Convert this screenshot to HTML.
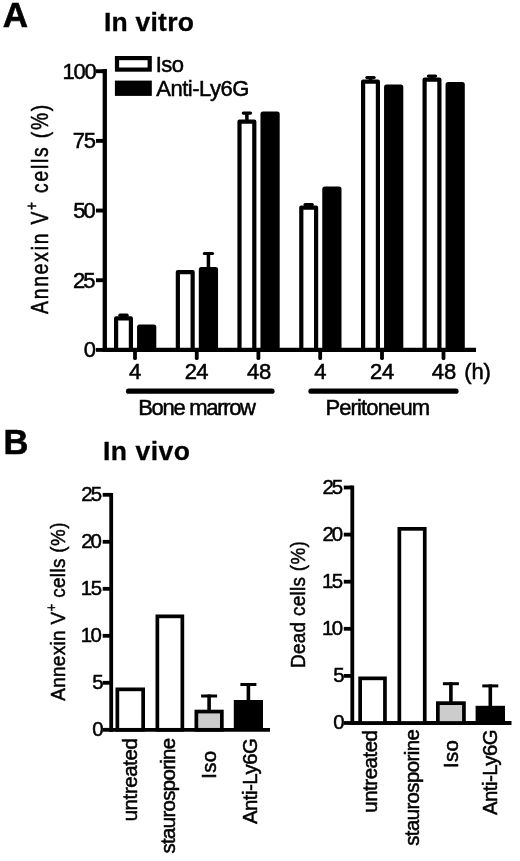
<!DOCTYPE html>
<html lang="en"><head><meta charset="utf-8"><title>Figure</title>
<style>html,body{margin:0;padding:0;background:#fff}body{width:520px;height:861px;overflow:hidden}svg{display:block}text{font-family:"Liberation Sans", Arial, sans-serif;fill:#000;stroke:#000}</style>
</head><body>
<svg width="520" height="861" viewBox="0 0 520 861">
<rect x="0" y="0" width="520" height="861" fill="#fff"/>
<text x="2.82" y="26.60" font-size="35" text-anchor="start" font-weight="bold" letter-spacing="0.000" stroke-width="0.6">A</text>
<text x="103.90" y="31.20" font-size="26.5" text-anchor="start" font-weight="bold" letter-spacing="0.243" stroke-width="0.3">In vitro</text>
<line x1="104.8" y1="69.05" x2="104.8" y2="352.05" stroke="#000" stroke-width="4.3" stroke-linecap="butt"/>
<line x1="102.65" y1="349.9" x2="476" y2="349.9" stroke="#000" stroke-width="4.3" stroke-linecap="butt"/>
<line x1="96" y1="71.2" x2="104.8" y2="71.2" stroke="#000" stroke-width="3.9" stroke-linecap="butt"/>
<text x="62.56" y="78.50" font-size="22" text-anchor="start" font-weight="normal" letter-spacing="-1.244" stroke-width="0.5">100</text>
<line x1="96" y1="140.875" x2="104.8" y2="140.875" stroke="#000" stroke-width="3.9" stroke-linecap="butt"/>
<text x="72.83" y="148.17" font-size="22" text-anchor="start" font-weight="normal" letter-spacing="-1.438" stroke-width="0.5">75</text>
<line x1="96" y1="210.55" x2="104.8" y2="210.55" stroke="#000" stroke-width="3.9" stroke-linecap="butt"/>
<text x="73.17" y="217.85" font-size="22" text-anchor="start" font-weight="normal" letter-spacing="-1.850" stroke-width="0.5">50</text>
<line x1="96" y1="280.225" x2="104.8" y2="280.225" stroke="#000" stroke-width="3.9" stroke-linecap="butt"/>
<text x="72.92" y="287.52" font-size="22" text-anchor="start" font-weight="normal" letter-spacing="-1.938" stroke-width="0.5">25</text>
<line x1="96" y1="349.9" x2="104.8" y2="349.9" stroke="#000" stroke-width="3.9" stroke-linecap="butt"/>
<text x="83.67" y="357.20" font-size="22" text-anchor="start" font-weight="normal" letter-spacing="0.000" stroke-width="0.5">0</text>
<text x="0.00" y="0.00" font-size="23" text-anchor="start" font-weight="normal" letter-spacing="2.133" stroke-width="0.5" transform="translate(47.60 314.00) rotate(-90) scale(0.8400 1)">Annexin V<tspan font-size="16.10" dy="-10.50">+</tspan><tspan font-size="23.00" dy="10.50"> cells (%)</tspan></text>
<rect x="117" y="58.1" width="32.7" height="11.5" fill="#fff" stroke="#000" stroke-width="4.2"/>
<rect x="114.9" y="80.6" width="36.9" height="15.3" fill="#000"/>
<text x="155.75" y="71.60" font-size="22" text-anchor="start" font-weight="normal" letter-spacing="-0.569" stroke-width="0.5">Iso</text>
<text x="156.29" y="95.60" font-size="22" text-anchor="start" font-weight="normal" letter-spacing="-0.489" stroke-width="0.5">Anti-Ly6G</text>
<line x1="123.5" y1="314.6" x2="123.5" y2="318.3" stroke="#000" stroke-width="3.5" stroke-linecap="butt"/>
<line x1="120" y1="315.2" x2="127" y2="315.2" stroke="#000" stroke-width="3.4" stroke-linecap="round"/>
<rect x="116.1" y="318.4" width="14.8" height="31.5" fill="#fff" stroke="#000" stroke-width="4.2" stroke-linejoin="round"/>
<rect x="137.05" y="324.5" width="19.25" height="25.4" rx="2.5" fill="#000"/>
<line x1="135" y1="349.9" x2="135" y2="358.2" stroke="#000" stroke-width="3.8" stroke-linecap="round"/>
<line x1="208.425" y1="253" x2="208.425" y2="269" stroke="#000" stroke-width="3.5" stroke-linecap="butt"/>
<line x1="204.3" y1="253.5" x2="212.55" y2="253.5" stroke="#000" stroke-width="3" stroke-linecap="round"/>
<rect x="177.85" y="272.1" width="14.8" height="77.8" fill="#fff" stroke="#000" stroke-width="4.2" stroke-linejoin="round"/>
<rect x="198.8" y="267" width="19.25" height="82.9" rx="2.5" fill="#000"/>
<line x1="196.75" y1="349.9" x2="196.75" y2="358.2" stroke="#000" stroke-width="3.8" stroke-linecap="round"/>
<line x1="246.9" y1="112.5" x2="246.9" y2="121.5" stroke="#000" stroke-width="3.5" stroke-linecap="butt"/>
<line x1="243.4" y1="113.1" x2="250.4" y2="113.1" stroke="#000" stroke-width="3.4" stroke-linecap="round"/>
<rect x="239.5" y="121.6" width="14.8" height="228.3" fill="#fff" stroke="#000" stroke-width="4.2" stroke-linejoin="round"/>
<rect x="260.45" y="111.5" width="19.25" height="238.4" rx="2.5" fill="#000"/>
<line x1="258.4" y1="349.9" x2="258.4" y2="358.2" stroke="#000" stroke-width="3.8" stroke-linecap="round"/>
<line x1="308.7" y1="204" x2="308.7" y2="207.5" stroke="#000" stroke-width="3.5" stroke-linecap="butt"/>
<line x1="305.2" y1="204.6" x2="312.2" y2="204.6" stroke="#000" stroke-width="3.4" stroke-linecap="round"/>
<rect x="301.3" y="207.6" width="14.8" height="142.3" fill="#fff" stroke="#000" stroke-width="4.2" stroke-linejoin="round"/>
<rect x="322.25" y="186.5" width="19.25" height="163.4" rx="2.5" fill="#000"/>
<line x1="320.2" y1="349.9" x2="320.2" y2="358.2" stroke="#000" stroke-width="3.8" stroke-linecap="round"/>
<line x1="370.5" y1="77" x2="370.5" y2="81.5" stroke="#000" stroke-width="3.5" stroke-linecap="butt"/>
<line x1="367" y1="77.6" x2="374" y2="77.6" stroke="#000" stroke-width="3.4" stroke-linecap="round"/>
<rect x="363.1" y="81.6" width="14.8" height="268.3" fill="#fff" stroke="#000" stroke-width="4.2" stroke-linejoin="round"/>
<rect x="384.05" y="84.5" width="19.25" height="265.4" rx="2.5" fill="#000"/>
<line x1="382" y1="349.9" x2="382" y2="358.2" stroke="#000" stroke-width="3.8" stroke-linecap="round"/>
<line x1="432" y1="75.5" x2="432" y2="79.5" stroke="#000" stroke-width="3.5" stroke-linecap="butt"/>
<line x1="428.5" y1="76.1" x2="435.5" y2="76.1" stroke="#000" stroke-width="3.4" stroke-linecap="round"/>
<rect x="424.6" y="79.6" width="14.8" height="270.3" fill="#fff" stroke="#000" stroke-width="4.2" stroke-linejoin="round"/>
<rect x="445.55" y="82" width="19.25" height="267.9" rx="2.5" fill="#000"/>
<line x1="443.5" y1="349.9" x2="443.5" y2="358.2" stroke="#000" stroke-width="3.8" stroke-linecap="round"/>
<text x="128.95" y="379.30" font-size="22" text-anchor="start" font-weight="normal" letter-spacing="0.000" stroke-width="0.5">4</text>
<text x="184.82" y="379.30" font-size="22" text-anchor="start" font-weight="normal" letter-spacing="-0.787" stroke-width="0.5">24</text>
<text x="247.05" y="379.30" font-size="22" text-anchor="start" font-weight="normal" letter-spacing="-0.400" stroke-width="0.5">48</text>
<text x="314.15" y="379.30" font-size="22" text-anchor="start" font-weight="normal" letter-spacing="0.000" stroke-width="0.5">4</text>
<text x="369.93" y="379.30" font-size="22" text-anchor="start" font-weight="normal" letter-spacing="-0.188" stroke-width="0.5">24</text>
<text x="431.75" y="379.30" font-size="22" text-anchor="start" font-weight="normal" letter-spacing="0.100" stroke-width="0.5">48</text>
<text x="464.27" y="379.30" font-size="22" text-anchor="start" font-weight="normal" letter-spacing="-0.112" stroke-width="0.5">(h)</text>
<line x1="128.5" y1="391.2" x2="272" y2="391.2" stroke="#000" stroke-width="5.2" stroke-linecap="round"/>
<line x1="311" y1="391.2" x2="456" y2="391.2" stroke="#000" stroke-width="5.2" stroke-linecap="round"/>
<text x="138.24" y="415.40" font-size="22" text-anchor="start" font-weight="normal" letter-spacing="-1.306" stroke-width="0.5">Bone marrow</text>
<text x="325.44" y="415.40" font-size="22" text-anchor="start" font-weight="normal" letter-spacing="-0.861" stroke-width="0.5">Peritoneum</text>
<text x="3.49" y="453.60" font-size="34.5" text-anchor="start" font-weight="bold" letter-spacing="0.000" stroke-width="0.6">B</text>
<text x="103.00" y="459.80" font-size="26.5" text-anchor="start" font-weight="bold" letter-spacing="0.496" stroke-width="0.3">In vivo</text>
<line x1="111.2" y1="492.9" x2="111.2" y2="731.7" stroke="#000" stroke-width="3.8" stroke-linecap="butt"/>
<line x1="109.3" y1="729.8" x2="270" y2="729.8" stroke="#000" stroke-width="3.8" stroke-linecap="butt"/>
<line x1="102.7" y1="494.8" x2="111.2" y2="494.8" stroke="#000" stroke-width="3.8" stroke-linecap="butt"/>
<text x="81.35" y="500.80" font-size="20.4" text-anchor="start" font-weight="normal" letter-spacing="-2.013" stroke-width="0.5">25</text>
<line x1="102.7" y1="541.8" x2="111.2" y2="541.8" stroke="#000" stroke-width="3.8" stroke-linecap="butt"/>
<text x="81.35" y="547.80" font-size="20.4" text-anchor="start" font-weight="normal" letter-spacing="-2.075" stroke-width="0.5">20</text>
<line x1="102.7" y1="588.8" x2="111.2" y2="588.8" stroke="#000" stroke-width="3.8" stroke-linecap="butt"/>
<text x="80.79" y="594.80" font-size="20.4" text-anchor="start" font-weight="normal" letter-spacing="-1.450" stroke-width="0.5">15</text>
<line x1="102.7" y1="635.8" x2="111.2" y2="635.8" stroke="#000" stroke-width="3.8" stroke-linecap="butt"/>
<text x="80.79" y="641.80" font-size="20.4" text-anchor="start" font-weight="normal" letter-spacing="-1.513" stroke-width="0.5">10</text>
<line x1="102.7" y1="682.8" x2="111.2" y2="682.8" stroke="#000" stroke-width="3.8" stroke-linecap="butt"/>
<text x="92.24" y="688.80" font-size="20.4" text-anchor="start" font-weight="normal" letter-spacing="0.000" stroke-width="0.5">5</text>
<line x1="102.7" y1="729.8" x2="111.2" y2="729.8" stroke="#000" stroke-width="3.8" stroke-linecap="butt"/>
<text x="92.24" y="735.80" font-size="20.4" text-anchor="start" font-weight="normal" letter-spacing="0.000" stroke-width="0.5">0</text>
<text x="0.00" y="0.00" font-size="21" text-anchor="start" font-weight="normal" letter-spacing="0.393" stroke-width="0.5" transform="translate(64.80 700.81) rotate(-90) scale(0.9000 1)">Annexin V<tspan font-size="14.70" dy="-9.00">+</tspan><tspan font-size="21.00" dy="9.00"> cells (%)</tspan></text>
<rect x="117.35" y="689.35" width="25.8" height="40.45" fill="#fff" stroke="#000" stroke-width="3.7"/>
<text x="0.00" y="0.00" font-size="20.4" text-anchor="start" font-weight="normal" letter-spacing="-0.367" stroke-width="0.5" transform="translate(137.10 821.36) rotate(-90)">untreated</text>
<rect x="157.35" y="616.35" width="25" height="113.45" fill="#fff" stroke="#000" stroke-width="3.7"/>
<text x="0.00" y="0.00" font-size="20.4" text-anchor="start" font-weight="normal" letter-spacing="-0.667" stroke-width="0.5" transform="translate(175.30 853.41) rotate(-90)">staurosporine</text>
<line x1="209.1" y1="694.5" x2="209.1" y2="711.7" stroke="#000" stroke-width="3.6" stroke-linecap="butt"/>
<line x1="201.1" y1="696" x2="217.1" y2="696" stroke="#000" stroke-width="3" stroke-linecap="butt"/>
<rect x="196.35" y="711.55" width="25.5" height="18.25" fill="#ccc" stroke="#000" stroke-width="3.7"/>
<text x="0.00" y="0.00" font-size="20.4" text-anchor="start" font-weight="normal" letter-spacing="0.250" stroke-width="0.5" transform="translate(215.90 778.73) rotate(-90)">Iso</text>
<line x1="248.4" y1="683" x2="248.4" y2="702" stroke="#000" stroke-width="3.6" stroke-linecap="butt"/>
<line x1="240.4" y1="684.5" x2="256.4" y2="684.5" stroke="#000" stroke-width="3" stroke-linecap="butt"/>
<rect x="233.8" y="700" width="29.2" height="29.8" fill="#000"/>
<text x="0.00" y="0.00" font-size="20.4" text-anchor="start" font-weight="normal" letter-spacing="-0.494" stroke-width="0.5" transform="translate(257.10 824.11) rotate(-90)">Anti-Ly6G</text>
<line x1="352.3" y1="485.6" x2="352.3" y2="724.9" stroke="#000" stroke-width="3.8" stroke-linecap="butt"/>
<line x1="350.4" y1="723" x2="511.5" y2="723" stroke="#000" stroke-width="3.8" stroke-linecap="butt"/>
<line x1="343.8" y1="487.5" x2="352.3" y2="487.5" stroke="#000" stroke-width="3.8" stroke-linecap="butt"/>
<text x="322.45" y="493.50" font-size="20.4" text-anchor="start" font-weight="normal" letter-spacing="-2.012" stroke-width="0.5">25</text>
<line x1="343.8" y1="534.6" x2="352.3" y2="534.6" stroke="#000" stroke-width="3.8" stroke-linecap="butt"/>
<text x="322.45" y="540.60" font-size="20.4" text-anchor="start" font-weight="normal" letter-spacing="-2.075" stroke-width="0.5">20</text>
<line x1="343.8" y1="581.7" x2="352.3" y2="581.7" stroke="#000" stroke-width="3.8" stroke-linecap="butt"/>
<text x="321.89" y="587.70" font-size="20.4" text-anchor="start" font-weight="normal" letter-spacing="-1.450" stroke-width="0.5">15</text>
<line x1="343.8" y1="628.8" x2="352.3" y2="628.8" stroke="#000" stroke-width="3.8" stroke-linecap="butt"/>
<text x="321.89" y="634.80" font-size="20.4" text-anchor="start" font-weight="normal" letter-spacing="-1.512" stroke-width="0.5">10</text>
<line x1="343.8" y1="675.9" x2="352.3" y2="675.9" stroke="#000" stroke-width="3.8" stroke-linecap="butt"/>
<text x="333.34" y="681.90" font-size="20.4" text-anchor="start" font-weight="normal" letter-spacing="0.000" stroke-width="0.5">5</text>
<line x1="343.8" y1="723" x2="352.3" y2="723" stroke="#000" stroke-width="3.8" stroke-linecap="butt"/>
<text x="333.34" y="729.00" font-size="20.4" text-anchor="start" font-weight="normal" letter-spacing="0.000" stroke-width="0.5">0</text>
<text x="0.00" y="0.00" font-size="21" text-anchor="start" font-weight="normal" letter-spacing="0.346" stroke-width="0.5" transform="translate(305.20 668.03) rotate(-90) scale(0.9000 1)">Dead cells (%)</text>
<rect x="360.15" y="678.35" width="24.8" height="44.65" fill="#fff" stroke="#000" stroke-width="3.7"/>
<text x="0.00" y="0.00" font-size="20.4" text-anchor="start" font-weight="normal" letter-spacing="-0.430" stroke-width="0.5" transform="translate(376.60 812.76) rotate(-90)">untreated</text>
<rect x="399.35" y="528.85" width="25.4" height="194.15" fill="#fff" stroke="#000" stroke-width="3.7"/>
<text x="0.00" y="0.00" font-size="20.4" text-anchor="start" font-weight="normal" letter-spacing="-0.583" stroke-width="0.5" transform="translate(419.10 845.81) rotate(-90)">staurosporine</text>
<line x1="450.9" y1="682.2" x2="450.9" y2="703.3" stroke="#000" stroke-width="3.6" stroke-linecap="butt"/>
<line x1="442.9" y1="683.7" x2="458.9" y2="683.7" stroke="#000" stroke-width="3" stroke-linecap="butt"/>
<rect x="437.85" y="703.15" width="26.1" height="19.85" fill="#ccc" stroke="#000" stroke-width="3.7"/>
<text x="0.00" y="0.00" font-size="20.4" text-anchor="start" font-weight="normal" letter-spacing="0.300" stroke-width="0.5" transform="translate(457.80 768.02) rotate(-90)">Iso</text>
<line x1="490.3" y1="684.4" x2="490.3" y2="707.8" stroke="#000" stroke-width="3.6" stroke-linecap="butt"/>
<line x1="482.3" y1="685.9" x2="498.3" y2="685.9" stroke="#000" stroke-width="3" stroke-linecap="butt"/>
<rect x="475.6" y="705.8" width="29.4" height="17.2" fill="#000"/>
<text x="0.00" y="0.00" font-size="20.4" text-anchor="start" font-weight="normal" letter-spacing="-0.531" stroke-width="0.5" transform="translate(497.10 815.01) rotate(-90)">Anti-Ly6G</text>
</svg>
</body></html>
